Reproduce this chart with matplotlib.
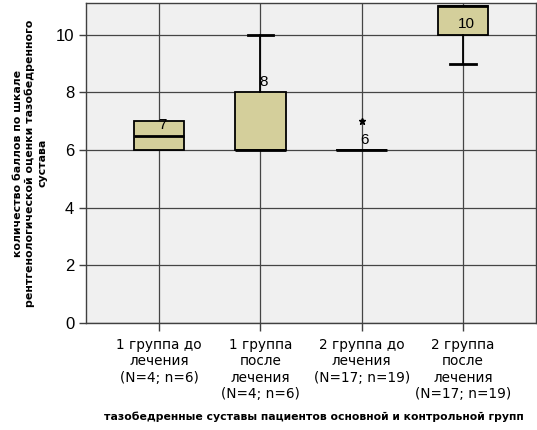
import matplotlib
matplotlib.use("Agg")
import matplotlib.pyplot as plt

plt.rcParams['font.family'] = ['Liberation Sans', 'DejaVu Sans']

groups = ["1 группа до\nлечения\n(N=4; n=6)",
          "1 группа\nпосле\nлечения\n(N=4; n=6)",
          "2 группа до\nлечения\n(N=17; n=19)",
          "2 группа\nпосле\nлечения\n(N=17; n=19)"]
q1 = [6, 6, 6, 10]
med = [6.5, 6, 6, 11]
q3 = [7, 8, 6, 11]
whislo = [6, 6, 6, 9]
whishi = [7, 10, 6, 11]
fliers = [[], [], [7], []]
case_labels = ["7", "8", "6", "10"]
label_y = [6.88, 8.35, 6.35, 10.38]

fig = plt.figure(figsize=(5.37, 4.30), dpi=100)
ax = fig.add_axes([86 / 537, 1 - 323 / 430, 450 / 537, 320 / 430])
ax.set_facecolor('#f0f0f0')

stats = []
for i in range(len(groups)):
    stats.append(dict(q1=q1[i], med=med[i], q3=q3[i], whislo=whislo[i],
                      whishi=whishi[i], fliers=fliers[i]))

pos = list(range(len(groups)))
bp = ax.bxp(stats, positions=pos, widths=0.5, capwidths=0.25, patch_artist=True,
            boxprops=dict(facecolor='#d4cf9b', edgecolor='black', linewidth=1.3),
            medianprops=dict(color='black', linewidth=2),
            whiskerprops=dict(color='black', linewidth=1.3),
            capprops=dict(color='black', linewidth=2),
            flierprops=dict(marker='*', markersize=4.5, markerfacecolor='black',
                            markeredgecolor='black', linestyle='none'),
            zorder=3)

# caps that sit on the box edge are not drawn in the original
for i in range(len(groups)):
    if whislo[i] == q1[i]:
        bp['caps'][2 * i].set_visible(False)
    if whishi[i] == q3[i]:
        bp['caps'][2 * i + 1].set_visible(False)

for i, t in enumerate(case_labels):
    ax.text(pos[i] + 0.03, label_y[i], t, ha='center', va='center',
            fontsize=11, zorder=5)

ax.set_xlim(-0.72, 3.72)
ax.set_ylim(0, 11.1)
ax.set_yticks([0, 2, 4, 6, 8, 10])
ax.set_xticks(pos)
ax.set_xticklabels(groups, fontsize=9.8, linespacing=1.2, va='top',
                   family='DejaVu Sans')
ax.tick_params(axis='y', labelsize=12, length=5, width=1, color='#404040')
ax.tick_params(axis='x', length=6, width=1, color='#404040', pad=5)
ax.grid(True, color='#454545', linewidth=0.9, zorder=0)
ax.set_axisbelow(True)
for s in ax.spines.values():
    s.set_color('#404040')
    s.set_linewidth(1)

ax.set_ylabel("количество баллов по шкале\nрентгенологической оценки тазобедренного\nсустава",
              fontsize=7.9, fontweight='bold', linespacing=1.25, labelpad=6,
              family='DejaVu Sans')
fig.text(314 / 537, 1 - 417 / 430,
         "тазобедренные суставы пациентов основной и контрольной групп",
         ha='center', va='center', fontsize=7.8, fontweight='bold',
         family='DejaVu Sans')

fig.savefig("out.png", dpi=100)
